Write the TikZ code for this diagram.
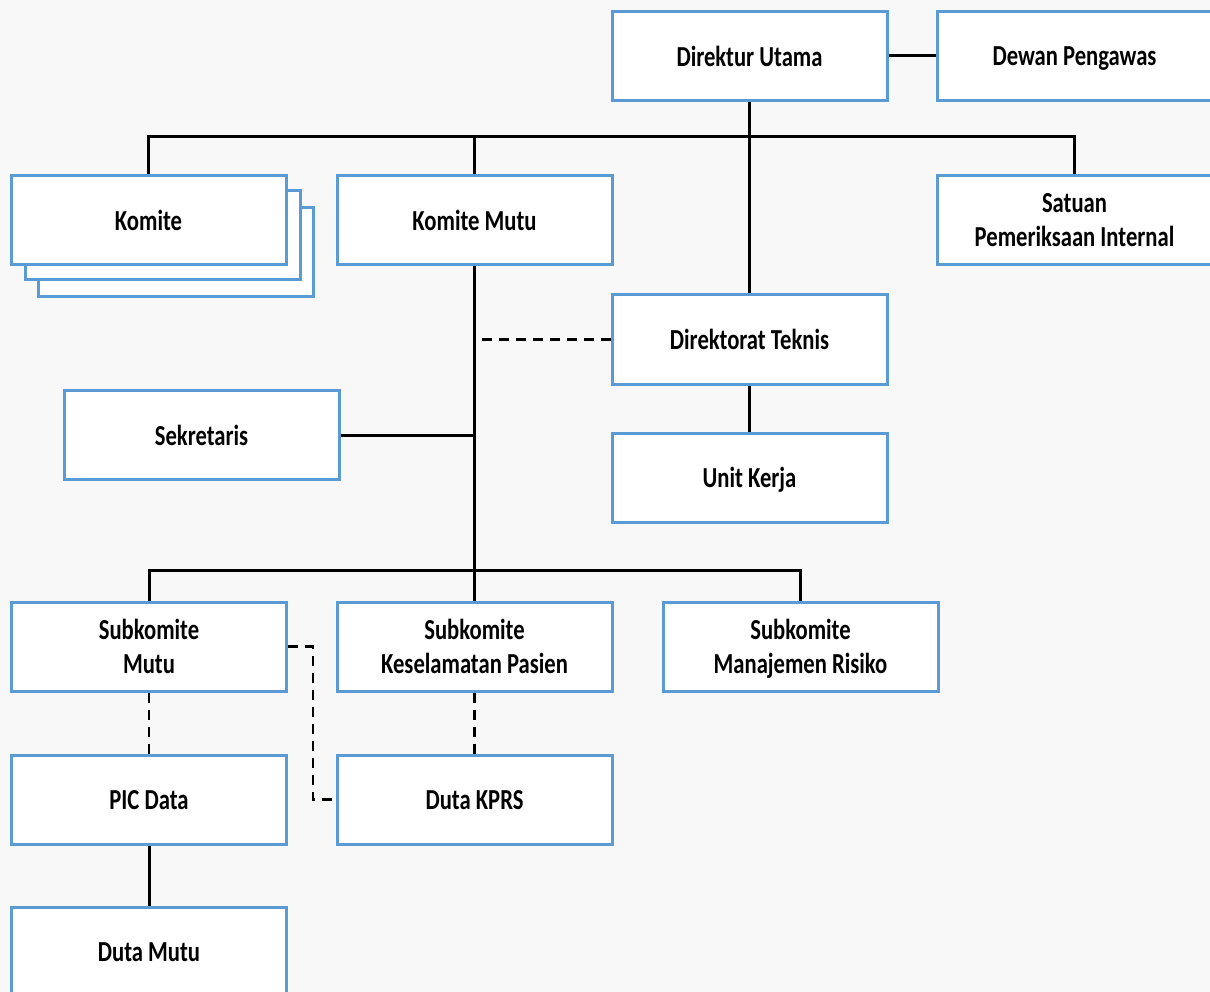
\documentclass[tikz,border=0pt]{standalone}
\usepackage{fontspec}
\setmainfont{Carlito}[FakeStretch=0.78]
\definecolor{boxblue}{HTML}{5B9BD5}
\definecolor{bg}{HTML}{F8F8F8}
\begin{document}
\begin{tikzpicture}[x=1pt,y=-1pt,
  box/.style={draw=boxblue, line width=3pt, fill=white, minimum width=275pt, minimum height=89pt, align=center, inner sep=0pt, text depth=0pt, font=\fontsize{29}{34}\selectfont\bfseries},
  conn/.style={line width=3pt, black},
  dconn/.style={line width=2.5pt, black, dash pattern=on 10pt off 7pt}]
\useasboundingbox (0,0) rectangle (1210,992);
\fill[bg] (0,0) rectangle (1210,992);
\clip (0,0) rectangle (1210,992);
% nodes
\node[box] (dir) at (749.5,56) {Direktur Utama};
\node[box] (dewan) at (1074.5,56) {Dewan Pengawas};
\node[box] (komiteC) at (176,252.5) {};
\node[box] (komiteB) at (162.5,235.5) {};
\node[box] (komite) at (148.5,220) {Komite};
\node[box] (km) at (474.5,220.5) {Komite Mutu};
\node[box] (spi) at (1074.5,220) {Satuan\\Pemeriksaan Internal};
\node[box] (dt) at (749.5,339.5) {Direktorat Teknis};
\node[box] (sek) at (201.5,435) {Sekretaris};
\node[box] (uk) at (749.5,477.5) {Unit Kerja};
\node[box] (sm) at (149,646.5) {Subkomite\\Mutu};
\node[box] (skp) at (474.5,646.5) {Subkomite\\Keselamatan Pasien};
\node[box] (smr) at (800.5,646.5) {Subkomite\\Manajemen Risiko};
\node[box] (pic) at (149,799.5) {PIC Data};
\node[box] (kprs) at (474.5,799.5) {Duta KPRS};
\node[box] (dm) at (149,952) {Duta Mutu};
\coordinate (bar) at (749.5,137);
\coordinate (bar2) at (474.5,570);
% connectors
\draw[conn] (dir.east) -- (dewan.west);
\draw[conn] (dir.south) -- (dt.north);
\draw[conn] (komite.north) |- (bar) -| (spi.north);
\draw[conn] (km.north) -- (km.north |- bar);
\draw[conn] (km.south) -- (bar2);
\draw[conn] (sek.east) -- (sek.east -| km.south);
\draw[conn] (dt.south) -- (uk.north);
\draw[conn] (sm.north) |- (bar2) -| (smr.north);
\draw[conn] (skp.north) -- (bar2);
\draw[dconn] (dt.west) -- ++(-129,0);
\draw[dconn] (sm.south) -- (pic.north);
\draw[dconn] (skp.south) -- (kprs.north);
\draw[dconn] (sm.east) -- ++(25,0) |- (kprs.west);
\draw[conn] (pic.south) -- (dm.north);
\end{tikzpicture}
\end{document}
